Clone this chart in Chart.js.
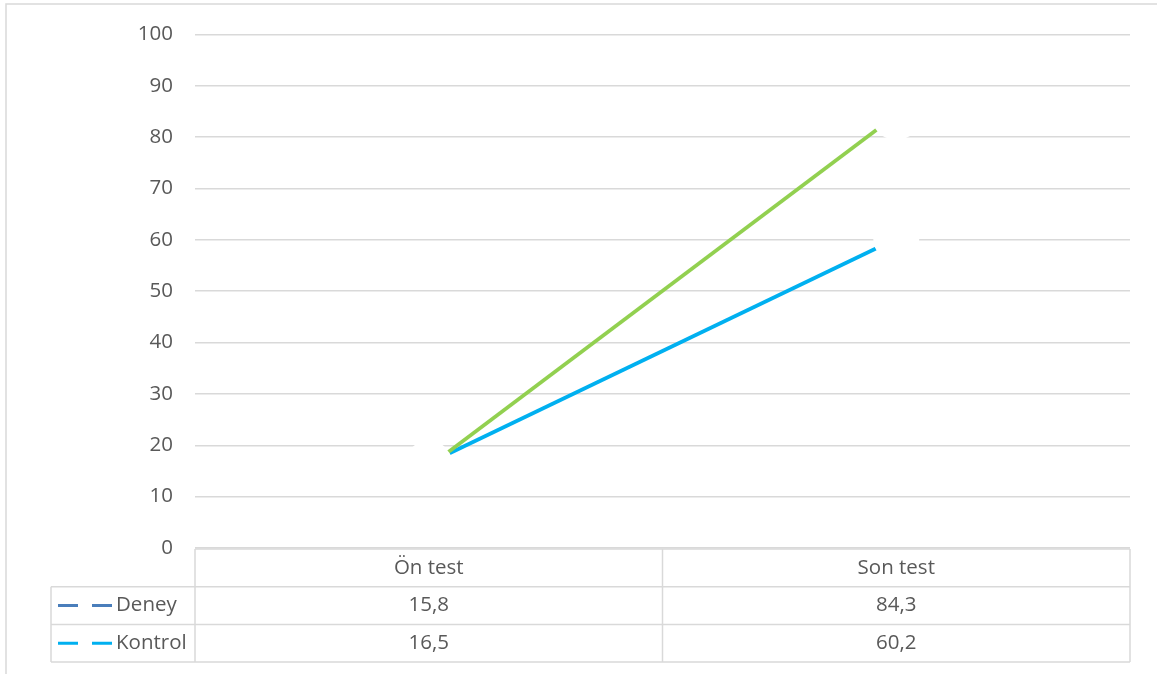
<!DOCTYPE html>
<html>
<head>
<meta charset="utf-8">
<script src="https://cdn.jsdelivr.net/npm/chart.js@4"></script>
<style>
  body { margin: 0; background: #fff; }
  canvas { display: block; }
</style>
</head>
<body>
<canvas id="chart" width="1157" height="674"></canvas>
<script>
// Data
const categories = ['Ön test', 'Son test'];
const seriesNames = ['Deney', 'Kontrol'];
const deney = [15.8, 84.3];
const kontrol = [16.5, 60.2];
const yMin = 0, yMax = 100, yStep = 10;

const lineColors = ['#92D050', '#00B0F0'];
const keyColors = ['#4A7EBB', '#00B0F0'];
const gridColor = '#d9d9d9';
const textColor = '#595959';
const fontFamily = "'Open Sans', sans-serif";

function fmt(n) {
    return n.toLocaleString('tr-TR', { minimumFractionDigits: 1 });
}

// Data table under the plot, drawn from the x scale
const dataTable = {
    id: 'dataTable',
    beforeDraw(chart) {
        const ctx = chart.ctx;
        ctx.save();
        ctx.strokeStyle = gridColor;
        ctx.lineWidth = 1.5;
        ctx.beginPath();
        ctx.moveTo(6, 674); ctx.lineTo(6, 4); ctx.lineTo(1157, 4);
        ctx.stroke();
        ctx.restore();
    },
    afterDraw(chart) {
        const { ctx, chartArea: area, scales: { x } } = chart;
        const top = area.bottom + 1;
        const rowH = 37.7;
        const rows = [top, top + rowH, top + 2 * rowH, top + 3 * rowH];
        const legendLeft = 51;
        const values = [deney, kontrol];

        ctx.save();
        ctx.strokeStyle = gridColor;
        ctx.lineWidth = 1.5;
        ctx.beginPath();
        // horizontal lines
        ctx.moveTo(area.left, rows[0]); ctx.lineTo(area.right, rows[0]);
        for (let i = 1; i < rows.length; i++) {
            ctx.moveTo(legendLeft, rows[i]); ctx.lineTo(area.right, rows[i]);
        }
        // vertical lines
        ctx.moveTo(area.left, rows[0]); ctx.lineTo(area.left, rows[3]);
        ctx.moveTo(area.right, rows[0]); ctx.lineTo(area.right, rows[3]);
        ctx.moveTo(legendLeft, rows[1]); ctx.lineTo(legendLeft, rows[3]);
        for (let i = 1; i < categories.length; i++) {
            const mid = (x.getPixelForValue(i - 1) + x.getPixelForValue(i)) / 2;
            ctx.moveTo(mid, rows[0]); ctx.lineTo(mid, rows[3]);
        }
        ctx.stroke();

        ctx.fillStyle = textColor;
        ctx.font = `20.5px ${fontFamily}`;
        ctx.textAlign = 'center';
        ctx.textBaseline = 'middle';
        categories.forEach((c, i) => {
            ctx.fillText(c, x.getPixelForValue(i), (rows[0] + rows[1]) / 2);
        });
        seriesNames.forEach((name, r) => {
            const cy = (rows[r + 1] + rows[r + 2]) / 2;
            values[r].forEach((v, i) => {
                ctx.fillText(fmt(v), x.getPixelForValue(i), cy);
            });
            // legend key: dashed line
            ctx.strokeStyle = keyColors[r];
            ctx.lineWidth = 3;
            ctx.beginPath();
            ctx.moveTo(58, cy); ctx.lineTo(78, cy);
            ctx.moveTo(92, cy); ctx.lineTo(112, cy);
            ctx.stroke();
            ctx.textAlign = 'left';
            ctx.fillText(name, 116, cy);
            ctx.textAlign = 'center';
        });
        ctx.restore();
    }
};

new Chart(document.getElementById('chart'), {
    type: 'line',
    data: {
        labels: categories,
        datasets: [
            {
                label: seriesNames[0], data: deney, borderColor: lineColors[0], borderWidth: 3.75,
                pointRadius: 25, pointBackgroundColor: '#fff', pointBorderColor: '#fff', pointBorderWidth: 0,
                pointHoverRadius: 25
            },
            {
                label: seriesNames[1], data: kontrol, borderColor: lineColors[1], borderWidth: 3.75,
                pointRadius: 23, pointBackgroundColor: '#fff', pointBorderColor: '#fff', pointBorderWidth: 0,
                pointHoverRadius: 23
            }
        ]
    },
    options: {
        responsive: false,
        animation: false,
        events: [],
        layout: { padding: { top: 33, right: 27, bottom: 126, left: 0 } },
        plugins: { legend: { display: false }, tooltip: { enabled: false } },
        scales: {
            x: { display: false, offset: true },
            y: {
                min: yMin, max: yMax,
                afterFit: axis => { axis.width = 195; },
                border: { display: false },
                grid: { color: gridColor, lineWidth: 1.5, drawTicks: false },
                ticks: { stepSize: yStep, padding: 22, color: textColor, font: { family: fontFamily, size: 20.5 } }
            }
        }
    },
    plugins: [dataTable]
});
</script>
</body>
</html>
